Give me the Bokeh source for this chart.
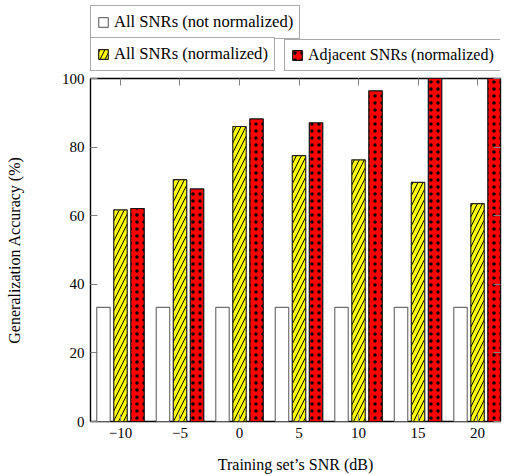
from bokeh.plotting import figure
from bokeh.layouts import column
from bokeh.models import (ColumnDataSource, FixedTicker, Range1d, LinearAxis, Legend, LegendItem,
                          CustomLabelingPolicy)
from bokeh.transform import dodge
from bokeh.embed import file_html
from bokeh.resources import INLINE

# ---- data ----
snr = [-10, -5, 0, 5, 10, 15, 20]
tick_labels = ["−10", "−5", "0", "5", "10", "15", "20"]
not_normalized = [33.3, 33.3, 33.3, 33.3, 33.3, 33.3, 33.3]
all_normalized = [61.7, 70.5, 86.0, 77.5, 76.3, 69.7, 63.5]
adjacent_normalized = [62.1, 67.8, 88.2, 87.1, 96.4, 100.0, 100.0]
y_ticks = [0, 20, 40, 60, 80, 100]
series_labels = ["All SNRs (not normalized)", "All SNRs (normalized)", "Adjacent SNRs (normalized)"]

src = ColumnDataSource(dict(snr=snr, nn=not_normalized, an=all_normalized, adj=adjacent_normalized))

FONT = "Liberation Serif"
W = 511
TOP_H = 71
MAIN_H = 475 - TOP_H

STYLE_NN = dict(fill_color="white", line_color="#707070", line_width=1.2)
STYLE_AN = dict(fill_color="#FFFF00", line_color="#222222", line_width=1.2,
                hatch_pattern="/", hatch_color="black", hatch_scale=10, hatch_weight=1)
STYLE_ADJ = dict(fill_color="#FF0000", line_color="#111111", line_width=1.2,
                 hatch_pattern=".", hatch_color="black", hatch_scale=7, hatch_weight=0.6)

BW = 1.13
OFF = 1.43

x_range = Range1d(-12.52, 21.93)

# ---- main chart ----
p = figure(width=W, height=MAIN_H, x_range=x_range, y_range=Range1d(0, 100),
           output_backend="svg", toolbar_location=None, title=None,
           min_border_left=90, min_border_right=11, min_border_top=7, min_border_bottom=53)
p.xgrid.visible = False
p.ygrid.visible = False
p.outline_line_color = "black"
p.outline_line_width = 1.4
p.background_fill_color = "white"
p.border_fill_color = "white"

def add_bars(fig):
    r1 = fig.vbar(x=dodge("snr", -OFF, range=x_range), top="nn", width=BW, source=src, **STYLE_NN)
    r2 = fig.vbar(x="snr", top="an", width=BW, source=src, **STYLE_AN)
    r3 = fig.vbar(x=dodge("snr", OFF, range=x_range), top="adj", width=BW, source=src, **STYLE_ADJ)
    return r1, r2, r3

add_bars(p)

overrides = {s: lab for s, lab in zip(snr, tick_labels)}
no_labels = CustomLabelingPolicy(code="return new Set()")

def style_axis(ax, labels=True):
    ax.axis_line_color = None
    ax.major_tick_in = 7
    ax.major_tick_out = 0
    ax.minor_tick_in = 0
    ax.minor_tick_out = 0
    ax.major_tick_line_color = "#808080"
    ax.major_tick_line_width = 1
    ax.major_label_text_font = FONT
    ax.major_label_text_font_size = "15px"
    ax.major_label_text_color = "black"
    ax.axis_label_text_font = FONT
    ax.axis_label_text_font_size = "16px"
    ax.axis_label_text_font_style = "normal"
    ax.axis_label_text_color = "black"
    if not labels:
        ax.major_label_policy = no_labels
        ax.major_label_text_font_size = "0px"
        ax.major_label_standoff = 0

xa = p.xaxis[0]
xa.ticker = FixedTicker(ticks=snr)
xa.major_label_overrides = overrides
style_axis(xa)
xa.major_label_standoff = 6
xa.axis_label = "Training set’s SNR (dB)"
xa.axis_label_standoff = 15

ya = p.yaxis[0]
ya.ticker = FixedTicker(ticks=y_ticks)
style_axis(ya)
ya.major_label_standoff = 6
ya.axis_label = "Generalization Accuracy (%)"
ya.axis_label_standoff = 36

top_ax = LinearAxis(ticker=FixedTicker(ticks=snr))
style_axis(top_ax, labels=False)
p.add_layout(top_ax, "above")
right_ax = LinearAxis(ticker=FixedTicker(ticks=y_ticks))
style_axis(right_ax, labels=False)
p.add_layout(right_ax, "right")

# ---- legend strip (bars drawn off-view, only their legend swatches show) ----
lg = figure(width=W, height=TOP_H, x_range=x_range, y_range=Range1d(200, 300),
            output_backend="svg", toolbar_location=None, title=None,
            x_axis_location=None, y_axis_location=None,
            min_border_left=90, min_border_right=11, min_border_top=0, min_border_bottom=0)
lg.xgrid.visible = False
lg.ygrid.visible = False
lg.outline_line_color = None
lg.border_fill_color = "white"
lg.background_fill_color = "white"

d_nn, d_an, d_adj = add_bars(lg)

def make_legend(label, rend, loc, size="16px"):
    leg = Legend(items=[LegendItem(label=label, renderers=[rend])], location=loc,
                 orientation="horizontal", glyph_width=12, glyph_height=12,
                 label_standoff=5, label_height=18, padding=6, spacing=0, margin=0,
                 border_line_color="#555555", border_line_width=1.2,
                 background_fill_color="white", background_fill_alpha=1.0,
                 label_text_font=FONT, label_text_font_size=size, label_text_color="black")
    lg.add_layout(leg, "center")
    return leg

make_legend(series_labels[0], d_nn, (0, 32), "16.6px")
make_legend(series_labels[1], d_an, (0, 0), "16.6px")
make_legend(series_labels[2], d_adj, (194, 0))

layout = column(lg, p, spacing=0)
open("out.html", "w").write(file_html(layout, INLINE))
